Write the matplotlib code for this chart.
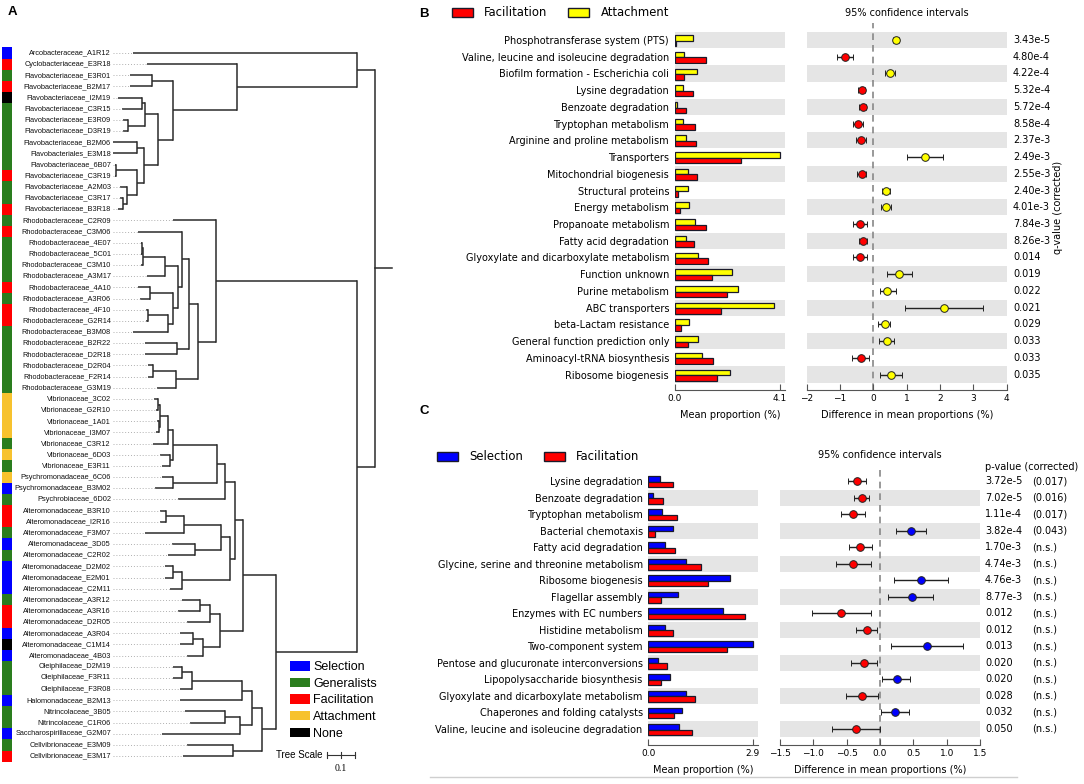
import numpy as np
import matplotlib
matplotlib.use("Agg")
import matplotlib.pyplot as plt
from matplotlib.patches import Patch
from matplotlib.lines import Line2D

# ---------------- panel A : tree ----------------
leaf_names = [
    "Arcobacteraceae_A1R12", "Cyclobacteriaceae_E3R18", "Flavobacteriaceae_E3R01",
    "Flavobacteriaceae_B2M17", "Flavobacteriaceae_I2M19", "Flavobacteriaceae_C3R15",
    "Flavobacteriaceae_E3R09", "Flavobacteriaceae_D3R19", "Flavobacteriaceae_B2M06",
    "Flavobacteriales_E3M18", "Flavobacteriaceae_6B07", "Flavobacteriaceae_C3R19",
    "Flavobacteriaceae_A2M03", "Flavobacteriaceae_C3R17", "Flavobacteriaceae_B3R18",
    "Rhodobacteraceae_C2R09", "Rhodobacteraceae_C3M06", "Rhodobacteraceae_4E07",
    "Rhodobacteraceae_5C01", "Rhodobacteraceae_C3M10", "Rhodobacteraceae_A3M17",
    "Rhodobacteraceae_4A10", "Rhodobacteraceae_A3R06", "Rhodobacteraceae_4F10",
    "Rhodobacteraceae_G2R14", "Rhodobacteraceae_B3M08", "Rhodobacteraceae_B2R22",
    "Rhodobacteraceae_D2R18", "Rhodobacteraceae_D2R04", "Rhodobacteraceae_F2R14",
    "Rhodobacteraceae_G3M19", "Vibrionaceae_3C02", "Vibrionaceae_G2R10",
    "Vibrionaceae_1A01", "Vibrionaceae_I3M07", "Vibrionaceae_C3R12",
    "Vibrionaceae_6D03", "Vibrionaceae_E3R11", "Psychromonadaceae_6C06",
    "Psychromonadaceae_B3M02", "Psychrobiaceae_6D02", "Alteromonadaceae_B3R10",
    "Alteromonadaceae_I2R16", "Alteromonadaceae_F3M07", "Alteromonadaceae_3D05",
    "Alteromonadaceae_C2R02", "Alteromonadaceae_D2M02", "Alteromonadaceae_E2M01",
    "Alteromonadaceae_C2M11", "Alteromonadaceae_A3R12", "Alteromonadaceae_A3R16",
    "Alteromonadaceae_D2R05", "Alteromonadaceae_A3R04", "Alteromonadaceae_C1M14",
    "Alteromonadaceae_4B03", "Oleiphilaceae_D2M19", "Oleiphilaceae_F3R11",
    "Oleiphilaceae_F3R08", "Halomonadaceae_B2M13", "Nitrincolaceae_3B05",
    "Nitrincolaceae_C1R06", "Saccharospirillaceae_G2M07", "Cellvibrionaceae_E3M09",
    "Cellvibrionaceae_E3M17",
]
leaf_group = list("SFGFNGGGGGGFGGFGFGGGGFGFFGGGGGGAAAAGAGASGFFGSGSSSGFFSNSGGGSGGSGF")
# distance of each tip from the root (tree units)
leaf_depth = [
    0.864, 0.814, 0.875, 0.875, 0.918, 0.904, 0.900, 0.900, 0.936, 0.936, 0.929, 0.929,
    0.911, 0.911, 0.918, 0.721, 0.846, 0.836, 0.836, 0.836, 0.814, 0.846, 0.839, 0.818,
    0.818, 0.864, 0.821, 0.821, 0.811, 0.811, 0.779, 0.789, 0.782, 0.779, 0.782, 0.793,
    0.768, 0.761, 0.761, 0.786, 0.704, 0.768, 0.768, 0.821, 0.725, 0.739, 0.750, 0.750,
    0.732, 0.689, 0.704, 0.671, 0.696, 0.696, 0.671, 0.721, 0.721, 0.696, 0.696, 0.679,
    0.661, 0.761, 0.671, 0.686,
]
group_names = {"S": "Selection", "G": "Generalists", "F": "Facilitation",
               "A": "Attachment", "N": "None"}
group_colors = {"S": "#0000ff", "G": "#2a7d1e", "F": "#ff0000",
                "A": "#f7c22e", "N": "#000000"}

# internal nodes: (distance from root, [children]); ints are leaf indices
flavo = (0.721, [(0.796, [2, 3]),
                 (0.775, [(0.821, [(0.832, [4, 5]), (0.882, [6, 7])]),
                          (0.825, [(0.850, [8, 9]),
                                   (0.850, [(0.925, [10, 11]),
                                            (0.886, [12, (0.900, [13, 14])])])])])])
top_clade = (0.064, [0, (0.493, [1, flavo])])
rhodo = (0.568, [15, (0.632, [(0.664, [(0.689, [16, (0.704, [
    (0.750, [(0.829, [(0.832, [17, 18]), 19]), 20]),
    (0.721, [(0.804, [21, 22]), (0.739, [(0.811, [23, 24]), 25])])])]),
    (0.707, [26, 27])]),
    (0.711, [(0.793, [28, 29]), 30])])])
vibrio = (0.564, [(0.721, [(0.739, [(0.768, [(0.775, [31, 32]), (0.771, [33, 34])]), 35]),
                           (0.732, [36, 37])]),
                  (0.721, [38, 39])])
altero = (0.500, [(0.536, [vibrio, 40]),
                  (0.518, [(0.550, [(0.682, [(0.746, [41, 42]), 43]), (0.643, [44, 45])]),
                           (0.689, [(0.721, [46, 47]), 48])])])
altero2 = (0.554, [(0.589, [(0.625, [49, 50]), 51]), (0.614, [(0.650, [52, 53]), 54])])
others = (0.404, [(0.439, [(0.475, [(0.654, [(0.689, [55, 56]), 57]), 58]),
                           (0.482, [(0.536, [59, 60]), 61])]),
                  (0.507, [62, 63])])
bottom_clade = (0.064, [rhodo, (0.354, [(0.471, [altero, altero2]), others])])
tree = (0.0, [top_clade, bottom_clade])

# ---------------- panel B ----------------
b_cats = ["Phosphotransferase system (PTS)", "Valine, leucine and isoleucine degradation",
          "Biofilm formation - Escherichia coli", "Lysine degradation",
          "Benzoate degradation", "Tryptophan metabolism", "Arginine and proline metabolism",
          "Transporters", "Mitochondrial biogenesis", "Structural proteins",
          "Energy metabolism", "Propanoate metabolism", "Fatty acid degradation",
          "Glyoxylate and dicarboxylate metabolism", "Function unknown", "Purine metabolism",
          "ABC transporters", "beta-Lactam resistance", "General function prediction only",
          "Aminoacyl-tRNA biosynthesis", "Ribosome biogenesis"]
b_attach = [0.69, 0.36, 0.85, 0.33, 0.07, 0.33, 0.42, 4.10, 0.49, 0.49, 0.55,
            0.79, 0.43, 0.90, 2.21, 2.45, 3.88, 0.56, 0.91, 1.04, 2.15]
b_facil = [0.04, 1.21, 0.35, 0.69, 0.43, 0.78, 0.82, 2.58, 0.86, 0.13, 0.18,
           1.21, 0.74, 1.30, 1.43, 2.02, 1.80, 0.25, 0.49, 1.47, 1.63]
b_diff = [0.68, -0.85, 0.50, -0.35, -0.32, -0.45, -0.38, 1.55, -0.35, 0.38, 0.38,
          -0.40, -0.30, -0.39, 0.78, 0.42, 2.12, 0.35, 0.42, -0.38, 0.52]
b_lo = [0.60, -1.10, 0.35, -0.45, -0.42, -0.60, -0.53, 1.00, -0.48, 0.25, 0.23,
        -0.62, -0.42, -0.60, 0.42, 0.20, 0.95, 0.15, 0.18, -0.63, 0.20]
b_hi = [0.76, -0.60, 0.65, -0.25, -0.22, -0.30, -0.23, 2.08, -0.22, 0.50, 0.52,
        -0.20, -0.18, -0.18, 1.17, 0.67, 3.28, 0.50, 0.63, -0.13, 0.85]
b_q = ["3.43e-5", "4.80e-4", "4.22e-4", "5.32e-4", "5.72e-4", "8.58e-4", "2.37e-3",
       "2.49e-3", "2.55e-3", "2.40e-3", "4.01e-3", "7.84e-3", "8.26e-3", "0.014",
       "0.019", "0.022", "0.021", "0.029", "0.033", "0.033", "0.035"]

# ---------------- panel C ----------------
c_cats = ["Lysine degradation", "Benzoate degradation", "Tryptophan metabolism",
          "Bacterial chemotaxis", "Fatty acid degradation",
          "Glycine, serine and threonine metabolism", "Ribosome biogenesis",
          "Flagellar assembly", "Enzymes with EC numbers", "Histidine metabolism",
          "Two-component system", "Pentose and glucuronate interconversions",
          "Lipopolysaccharide biosynthesis", "Glyoxylate and dicarboxylate metabolism",
          "Chaperones and folding catalysts", "Valine, leucine and isoleucine degradation"]
c_select = [0.32, 0.14, 0.37, 0.68, 0.46, 1.05, 2.27, 0.83, 2.08, 0.47, 2.90, 0.28,
            0.61, 1.05, 0.95, 0.85]
c_facil = [0.68, 0.42, 0.79, 0.20, 0.74, 1.46, 1.65, 0.34, 2.69, 0.68, 2.18, 0.51,
           0.35, 1.31, 0.71, 1.22]
c_diff = [-0.34, -0.275, -0.40, 0.465, -0.30, -0.40, 0.615, 0.475, -0.585, -0.20,
          0.70, -0.235, 0.25, -0.275, 0.225, -0.365]
c_lo = [-0.485, -0.385, -0.58, 0.235, -0.465, -0.665, 0.21, 0.125, -1.025, -0.365,
        0.165, -0.435, 0.035, -0.515, 0.01, -0.725]
c_hi = [-0.21, -0.165, -0.225, 0.69, -0.125, -0.14, 1.015, 0.80, -0.14, -0.05,
        1.25, -0.04, 0.45, -0.025, 0.435, 0.0]
c_p = ["3.72e-5", "7.02e-5", "1.11e-4", "3.82e-4", "1.70e-3", "4.74e-3", "4.76e-3",
       "8.77e-3", "0.012", "0.012", "0.013", "0.020", "0.020", "0.028", "0.032", "0.050"]
c_pcorr = ["(0.017)", "(0.016)", "(0.017)", "(0.043)"] + ["(n.s.)"] * 12

W, H = 1084, 784
fig = plt.figure(figsize=(W / 100, H / 100), dpi=100)


def px_axes(x0, y0, x1, y1):
    # axes placed by pixel box (top-left origin)
    return fig.add_axes([x0 / W, 1 - y1 / H, (x1 - x0) / W, (y1 - y0) / H])


# ======== A ========
ax = px_axes(0, 0, 430, 784)
ax.axis("off")
px_per_unit = 280.0
row_h = 11.16
ax.set_xlim(375 / px_per_unit, -55 / px_per_unit)
ax.set_ylim((784 - 53) / row_h, -53 / row_h)
tree_col = "#2b2b2b"


def draw(node):
    if isinstance(node, int):
        return node, leaf_depth[node]
    depth, kids = node
    pos = [draw(k) for k in kids]
    ys = [p[0] for p in pos]
    for y, d in pos:
        ax.plot([depth, d], [y, y], color=tree_col, lw=1.1, solid_capstyle="butt")
    ax.plot([depth, depth], [min(ys), max(ys)], color=tree_col, lw=1.1,
            solid_capstyle="projecting")
    return (min(ys) + max(ys)) / 2, depth


root_y, _ = draw(tree)
ax.plot([0, -0.06], [root_y, root_y], color=tree_col, lw=1.1)

label_x = 0.943
for i, name in enumerate(leaf_names):
    ax.text(label_x, i, name, ha="right", va="center", fontsize=5.3,
            family="Liberation Sans", color="#111111")
    if leaf_depth[i] < label_x - 0.01:
        ax.plot([label_x - 0.008, leaf_depth[i]], [i, i], color="#b0b0b0",
                lw=0.7, ls=(0, (1, 2)))

ax.barh(range(len(leaf_names)), 0.036, left=1.296, height=1.0,
        color=[group_colors[g] for g in leaf_group], lw=0)

handles = [Patch(facecolor=group_colors[k], edgecolor="none", label=group_names[k])
           for k in "SGFAN"]
ax.legend(handles=handles, loc="upper left", bbox_to_anchor=(290 / 430, 1 - 661 / 784),
          frameon=False, prop={"family": "Liberation Sans", "size": 9},
          handlelength=1.6, handleheight=0.8, handletextpad=0.25, labelspacing=0.36,
          borderpad=0, borderaxespad=0)

# tree scale bar
sy = (755 - 53) / row_h
sx0, slen = 0.171, 0.1
ax.plot([sx0, sx0 - slen], [sy, sy], color="#333333", lw=0.8)
for t in (sx0, sx0 - slen / 2, sx0 - slen):
    ax.plot([t, t], [sy - 0.3, sy + 0.3], color="#333333", lw=0.8)
ax.text(sx0 + 0.015, sy, "Tree Scale", ha="right", va="center", fontsize=7,
        family="Liberation Sans")
ax.text(sx0 - slen / 2, sy + 1.2, "0.1", ha="center", va="center", fontsize=7,
        family="Liberation Serif")


# ======== B and C ========
def comparison(cats, top_vals, bot_vals, cols, names, diff, lo, hi, bar_x, diff_x, y_box,
               row0, step, bar_lim, bar_ticks, diff_lim, diff_ticks, ypad):
    n = len(cats)
    rows = np.arange(n)
    ylim = ((y_box[1] - row0) / step, (y_box[0] - row0) / step)
    axb = px_axes(bar_x[0], y_box[0], bar_x[1], y_box[1])
    axd = px_axes(diff_x[0], y_box[0], diff_x[1], y_box[1])
    for a in (axb, axd):
        a.set_ylim(*ylim)
        for i in rows:
            if (n - 1 - i) % 2 == 0:
                a.axhspan(i - 0.485, i + 0.485, color="#e5e5e5", lw=0, zorder=0)
        for s in ("top", "right", "left"):
            a.spines[s].set_visible(False)
        a.spines["bottom"].set_color("#555555")
        a.tick_params(axis="x", direction="in", length=4, labelsize=6.5, pad=3,
                      color="#555555")
        a.tick_params(axis="y", length=0)
    axb.barh(rows - 0.13, top_vals, height=0.33, color=cols[0], edgecolor="#1a1a2a",
             lw=0.9, zorder=2)
    axb.barh(rows + 0.20, bot_vals, height=0.33, color=cols[1], edgecolor="#1a1a2a",
             lw=0.9, zorder=2)
    axb.set_xlim(0, bar_lim)
    axb.set_xticks(bar_ticks)
    axb.set_xticklabels(["%.1f" % t for t in bar_ticks])
    axb.set_yticks(rows)
    axb.set_yticklabels(cats, fontsize=7)
    axb.tick_params(axis="y", pad=ypad)
    axb.set_xlabel("Mean proportion (%)", fontsize=7, labelpad=5)

    axd.set_xlim(*diff_lim)
    axd.set_xticks(diff_ticks)
    axd.set_yticks([])
    axd.axvline(0, color="#888888", ls=(0, (4, 3)), lw=1.2, zorder=1)
    for i in rows:
        c = cols[0] if diff[i] > 0 else cols[1]
        axd.errorbar(diff[i], i, xerr=[[diff[i] - lo[i]], [hi[i] - diff[i]]], fmt="o",
                     color=c, mec="#222222", mew=0.7, ms=5.5, ecolor="#222222",
                     elinewidth=1, capsize=2.5, capthick=1, zorder=3)
    axd.set_xlabel("Difference in mean proportions (%)", fontsize=7, labelpad=5)
    return axb, axd


axb, axd = comparison(b_cats, b_attach, b_facil, ("#ffff00", "#ff0000"),
                      ("Attachment", "Facilitation"), b_diff, b_lo, b_hi,
                      (675, 785), (806.7, 1006.7), (23, 390), 40, 16.73,
                      4.3, [0, 4.1], (-2, 4), range(-2, 5), 4.3)
axd.text(0.5, 1.027, "95% confidence intervals", transform=axd.transAxes,
         ha="center", va="center", fontsize=7)
for i, q in enumerate(b_q):
    axd.text(1.0315, i, q, transform=axd.get_yaxis_transform(), ha="left",
             va="center", fontsize=7)
axd.text(1.2565, 10, "q-value (corrected)", transform=axd.get_yaxis_transform(),
         rotation=90, ha="center", va="center", fontsize=7)

axb2, axd2 = comparison(c_cats, c_select, c_facil, ("#0000ff", "#ff0000"),
                        ("Selection", "Facilitation"), c_diff, c_lo, c_hi,
                        (648.3, 757.7), (780, 980), (467, 745), 481, 16.53,
                        3.04, [0, 2.9], (-1.5, 1.5), np.arange(-1.5, 1.51, 0.5), 4)
axd2.text(0.5, 1.043, "95% confidence intervals", transform=axd2.transAxes,
          ha="center", va="center", fontsize=7)
tr = axd2.get_yaxis_transform()
axd2.text(1.025, -0.85, "p-value (corrected)", transform=tr, ha="left", va="center",
          fontsize=7)
for i, (p, pc) in enumerate(zip(c_p, c_pcorr)):
    axd2.text(1.025, i, p, transform=tr, ha="left", va="center", fontsize=7)
    axd2.text(1.26, i, pc, transform=tr, ha="left", va="center", fontsize=7)

# legends
leg_kw = dict(loc="center left", ncol=2, frameon=False, fontsize=8.4, handlelength=1.8,
              handleheight=0.75, handletextpad=0.95, columnspacing=1.8, borderpad=0,
              borderaxespad=0)
fig.legend(handles=[Patch(facecolor="#ff0000", edgecolor="#1a1a2a", lw=1, label="Facilitation"),
                    Patch(facecolor="#ffff00", edgecolor="#1a1a2a", lw=1, label="Attachment")],
           bbox_to_anchor=(452 / W, 1 - 13 / H), **leg_kw)
fig.legend(handles=[Patch(facecolor="#0000ff", edgecolor="#1a1a2a", lw=1, label="Selection"),
                    Patch(facecolor="#ff0000", edgecolor="#1a1a2a", lw=1, label="Facilitation")],
           bbox_to_anchor=(437 / W, 1 - 457 / H), **leg_kw)

# panel letters and frame line
for lab, x, y in (("A", 12, 12), ("B", 424, 14), ("C", 424, 411)):
    fig.text(x / W, 1 - y / H, lab, ha="center", va="center", fontsize=9.5,
             weight="bold", family="Liberation Sans")
fig.add_artist(Line2D([430 / W, 1017 / W], [1 - 777 / H, 1 - 777 / H],
                      color="#cfcfcf", lw=1))

fig.savefig("out.png", dpi=100)
